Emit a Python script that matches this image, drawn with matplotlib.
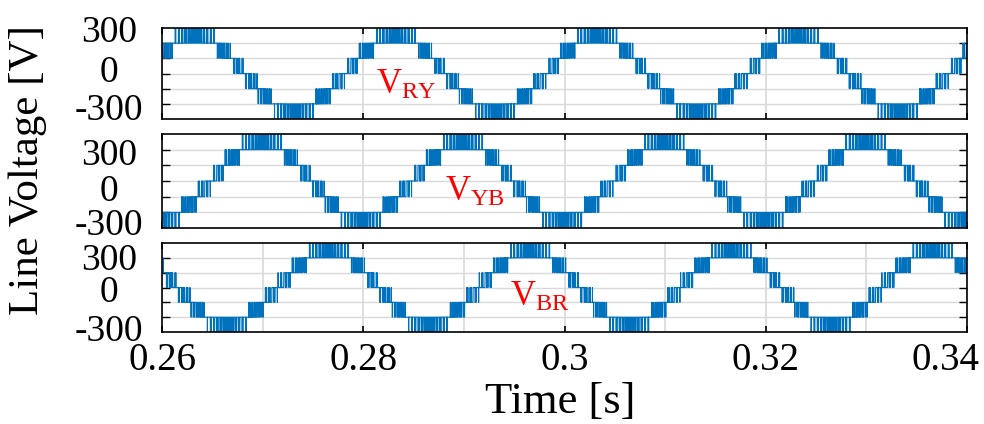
import numpy as np
import matplotlib.pyplot as plt
from matplotlib.ticker import FixedLocator, MultipleLocator
from matplotlib.transforms import ScaledTranslation

plt.rcParams['font.family'] = ['Liberation Serif', 'DejaVu Serif']
plt.rcParams['mathtext.fontset'] = 'custom'
plt.rcParams['mathtext.rm'] = 'Liberation Serif'

# values
f_grid = 50.0                 # Hz, fundamental
v_line_peak = 250.0           # V, peak of the line voltage reference
level_step = 100.0            # V, dc step of the inverter
phase_levels = [-1.5, -0.5, 0.5, 1.5]   # phase output levels in steps
f_carrier = 3000.0            # Hz, switching frequency
t_start, t_stop = 0.26, 0.34

names = ["RY", "YB", "BR"]
peak_times = [0.2632, 0.2699, 0.2765]     # first positive peak of each line voltage
label_times = [0.2813, 0.2881, 0.2946]
label_volts = [-80, -72, -68]

levels = [-300, -200, -100, 0, 100, 200, 300]
ytick_text = ["300", "0", "-300"]
ytick_pos = [[296, 30, -221], [188, -41, -262], [209, -10, -273]]
xticks = [0.26, 0.28, 0.30, 0.32, 0.34]
xtick_text = ["0.26", "0.28", "0.3", "0.32", "0.34"]

blue = "#0072BD"
grid_col = "#d9d9d9"


def phase_voltage(t, t_peak):
    """Phase-disposition PWM of one 4-level leg, in dc steps."""
    amp = v_line_peak / level_step / np.sqrt(3)
    ref = amp * np.cos(2 * np.pi * f_grid * (t - t_peak))
    phase = (t * f_carrier) % 1.0
    tri = 1.0 - np.abs(2.0 * phase - 1.0)
    out = np.full_like(t, phase_levels[0])
    for low in phase_levels[:-1]:
        out += (ref > low + tri)
    return out


t = np.arange(t_start, t_stop, 1e-6)
# a phase peaks 1/12 period after the line voltage it leads
shift = 1 / (12 * f_grid)
period = 1 / f_grid
legs = [phase_voltage(t, peak_times[0] + shift + k * period / 3) for k in range(3)]
traces = [(legs[0] - legs[1]) * level_step,
          (legs[1] - legs[2]) * level_step,
          (legs[2] - legs[0]) * level_step]

fig = plt.figure(figsize=(9.84, 4.24), dpi=100)
left, width = 162 / 984, 805 / 984
boxes = [(28, 119), (134, 228), (243, 332)]

for i, (top, bottom) in enumerate(boxes):
    ax = fig.add_axes([left, 1 - bottom / 424, width, (bottom - top) / 424])
    ax.plot(t, traces[i], color=blue, lw=0.8)
    ax.set_xlim(t_start, t_stop)
    ax.set_ylim(levels[0], levels[-1])

    ax.set_yticks(ytick_pos[i])
    ax.set_yticklabels(ytick_text, ha="center")
    ax.tick_params(axis="y", which="major", length=0, pad=38, labelsize=27)
    ax.yaxis.set_minor_locator(FixedLocator(levels[1:-1]))
    ax.tick_params(axis="y", which="minor", direction="in", length=6,
                   width=1, left=True, right=True)
    ax.grid(True, axis="y", which="minor", color=grid_col, lw=1)

    ax.set_xticks(xticks)
    ax.tick_params(axis="x", which="major", direction="in", length=4,
                   width=1.2, top=True, bottom=True, labelsize=28, pad=7)
    ax.grid(True, axis="x", which="major", color=grid_col, lw=1.2)
    if i == 2:
        ax.set_xticklabels(xtick_text)
        last = ax.get_xticklabels()[-1]
        last.set_transform(last.get_transform()
                           + ScaledTranslation(-0.22, 0, fig.dpi_scale_trans))
        ax.xaxis.set_minor_locator(MultipleLocator(0.01))
        ax.tick_params(axis="x", which="minor", length=0)
        ax.grid(True, axis="x", which="minor", color=grid_col, lw=1.2)
    else:
        ax.set_xticklabels([])

    for s in ax.spines.values():
        s.set_linewidth(1.2)

    ax.text(label_times[i], label_volts[i], r"$\mathregular{V_{%s}}$" % names[i],
            color="red", fontsize=25, va="center", ha="left")

fig.text(28 / 984, 1 - 170 / 424, "Line Voltage [V]", rotation=90,
         ha="center", va="center", fontsize=31)
fig.text(560 / 984, 1 - 402 / 424, "Time [s]", ha="center", va="center",
         fontsize=32)

fig.savefig("out.png", dpi=100)
